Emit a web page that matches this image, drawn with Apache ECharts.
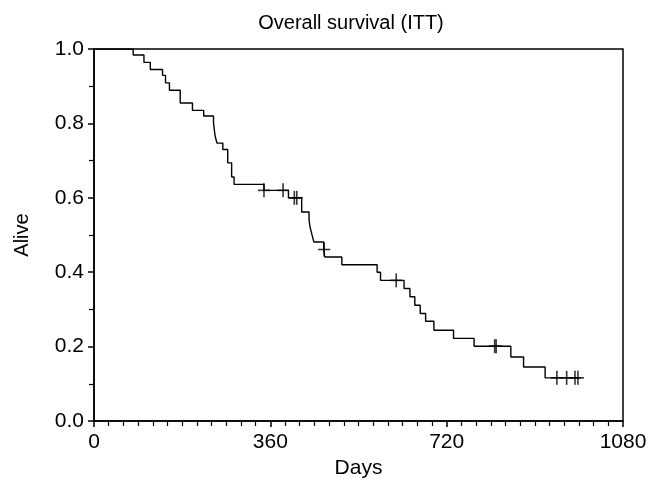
<!DOCTYPE html>
<html><head><meta charset="utf-8">
<script src="https://cdn.jsdelivr.net/npm/echarts@6/dist/echarts.min.js"></script>
<style>html,body{margin:0;padding:0;background:#fff}#c{width:658px;height:480px}</style>
</head><body><div id="c"></div>
<script>
// Kaplan-Meier step curve: day of each step and survival after it
const eventDays = [0, 80, 102, 115, 140, 146, 154, 176, 201, 224, 244, 247, 251, 263, 273, 281, 286, 347, 397, 424, 439, 441, 445, 449, 469, 471, 506, 578, 585, 633, 645, 655, 666, 677, 694, 734, 776, 851, 877, 921, 988];
const survival  = [1.0, 0.984, 0.964, 0.945, 0.929, 0.909, 0.889, 0.855, 0.835, 0.820, 0.802, 0.768, 0.747, 0.730, 0.694, 0.656, 0.636, 0.620, 0.600, 0.562, 0.541, 0.522, 0.501, 0.481, 0.461, 0.441, 0.420, 0.400, 0.378, 0.356, 0.334, 0.311, 0.289, 0.268, 0.244, 0.222, 0.201, 0.172, 0.145, 0.116, 0.116];
// censored observations
const censorDays = [347, 386, 409, 414, 470, 617, 818, 821, 945, 965, 982, 988];
const censorSurv = [0.620, 0.620, 0.600, 0.600, 0.461, 0.378, 0.201, 0.201, 0.116, 0.116, 0.116, 0.116];
const xTicks = [0, 360, 720, 1080];
const yTicks = [0.0, 0.2, 0.4, 0.6, 0.8, 1.0];

const FONT = 'Liberation Sans';
const chart = echarts.init(document.getElementById('c'), null, {renderer: 'canvas'});
const curve = eventDays.map((d, i) => [d, survival[i]]);
const cens = censorDays.map((d, i) => [d, censorSurv[i]]);
chart.setOption({
  animation: false,
  backgroundColor: '#fff',
  title: {
    text: 'Overall survival (ITT)', left: 346, top: 8, textAlign: 'center',
    textStyle: {fontFamily: FONT, fontSize: 20, fontWeight: 'normal', color: '#000'}
  },
  grid: {left: 94, right: 35, top: 49, bottom: 59, show: true, borderColor: '#000', borderWidth: 1.5,
         containLabel: false, outerBoundsMode: 'none'},
  xAxis: {
    type: 'value', min: xTicks[0], max: xTicks[xTicks.length - 1], interval: 360,
    name: 'Days', nameLocation: 'middle', nameGap: 35,
    nameTextStyle: {fontFamily: FONT, fontSize: 21, color: '#000'},
    axisLine: {lineStyle: {color: '#000', width: 1.5}},
    axisTick: {show: true, length: 6, lineStyle: {color: '#000', width: 1.5}},
    minorTick: {show: true, splitNumber: 12, length: 5, lineStyle: {color: '#000', width: 1.2}},
    splitLine: {show: false},
    axisLabel: {fontFamily: FONT, fontSize: 21, color: '#000', margin: 11, formatter: v => String(v)}
  },
  yAxis: {
    type: 'value', min: yTicks[0], max: yTicks[yTicks.length - 1], interval: 0.2,
    name: 'Alive', nameLocation: 'middle', nameGap: 62, nameRotate: 90,
    nameTextStyle: {fontFamily: FONT, fontSize: 20, color: '#000'},
    axisLine: {show: true, lineStyle: {color: '#000', width: 1.5}},
    axisTick: {show: true, length: 6, lineStyle: {color: '#000', width: 1.5}},
    minorTick: {show: true, splitNumber: 2, length: 5, lineStyle: {color: '#000', width: 1.2}},
    splitLine: {show: false},
    axisLabel: {fontFamily: FONT, fontSize: 21, color: '#000', margin: 10, formatter: v => v.toFixed(1)}
  },
  series: [
    {type: 'line', data: curve, step: 'end', showSymbol: false, symbol: 'none',
     lineStyle: {color: '#000', width: 1.4}, z: 2},
    {type: 'scatter', data: cens, symbol: 'rect', symbolSize: [1.6, 14],
     itemStyle: {color: '#000'}, z: 3},
    {type: 'scatter', data: cens, symbol: 'rect', symbolSize: [12, 1.6],
     itemStyle: {color: '#000'}, z: 3}
  ]
});
</script></body></html>
